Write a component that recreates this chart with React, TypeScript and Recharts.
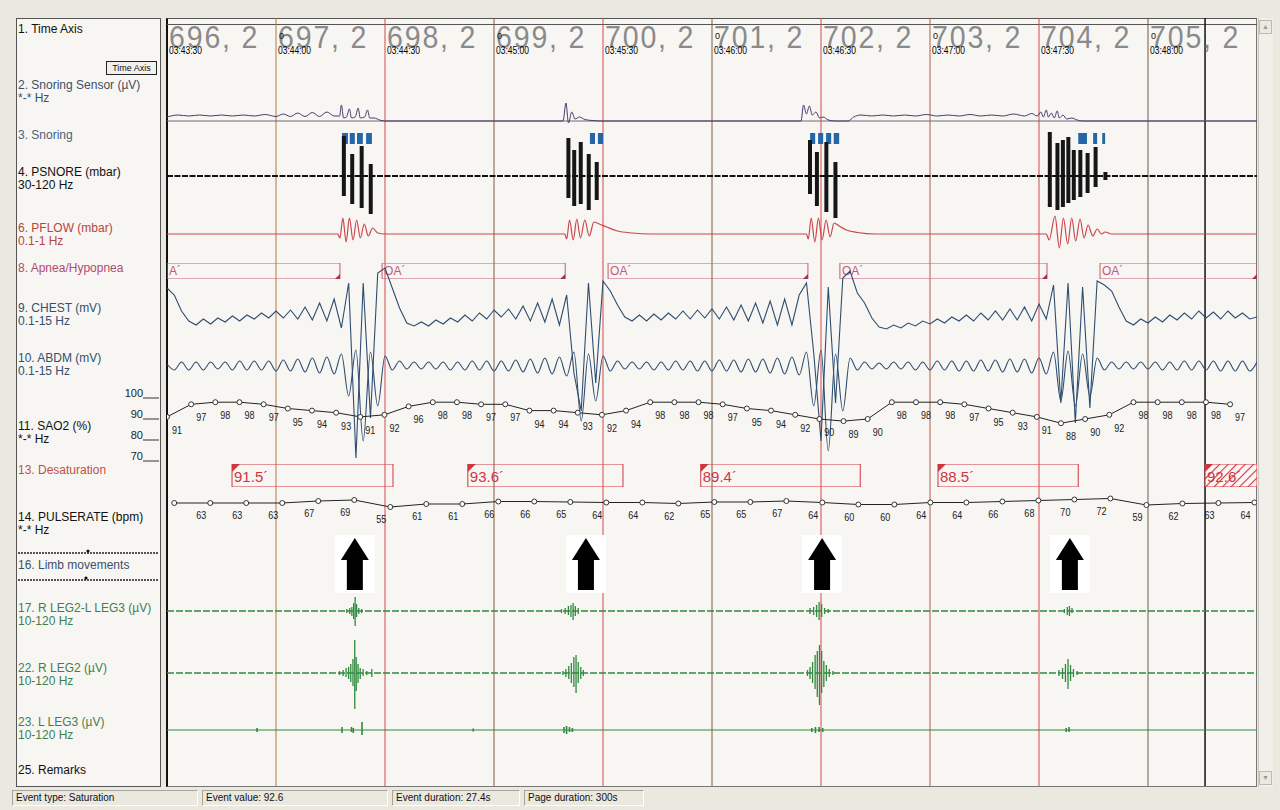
import React from 'react';
import {
  ComposedChart,
  Line,
  Bar,
  Scatter,
  XAxis,
  YAxis,
  ReferenceLine,
  ReferenceArea,
  LabelList,
} from 'recharts';

// page of 300 s, ten 30 s epochs
const epochNumbers = [696, 697, 698, 699, 700, 701, 702, 703, 704, 705];
const epochClock = ['03:43:30', '03:44:00', '03:44:30', '03:45:00', '03:45:30', '03:46:00', '03:46:30', '03:47:00', '03:47:30', '03:48:00'];
const epochZero = ['', '0', '', '0', '', '0', '', '0', '', '0'];
const epochStart = [0, 30, 60, 90, 120, 150, 180, 210, 240, 270];
const epochLineColor = ['#b07a48', '#d5474a', '#7d5d46', '#d5474a', '#7d5d46', '#d5474a', '#b55a4a', '#d5474a', '#6f5a4a'];
const cursorTime = 285.7;

// 9. CHEST, one sample every 2 s
const chestStep = 2;
const chestValues = [
  25, 18, 2, -8, -12, -6, -11, -5, -9, -3,
  -8, -2, -6, 0, -5, 2, -5, 3, -6, 6,
  -7, 10, -8, 14, -15, 30, -145, 30, -105, 40,
  45, 25, 5, -10, -13, -9, -13, -7, -11, -5,
  -9, -2, -8, 0, -6, 3, -4, 4, -6, 7,
  -8, 10, -9, 14, -12, 18, -60, -98, 30, -70,
  32, 22, 8, -4, -8, -2, -8, -1, -7, 0,
  -6, 2, -6, 3, -5, 4, -6, 6, -7, 8,
  -8, 10, -10, 12, -12, 14, -12, 18, 30, -40,
  -128, 26, -90, 35, 42, 20, 10, -5, -14, -16,
  -12, -15, -10, -13, -8, -11, -6, -10, -4, -8,
  -2, -8, 0, -7, 2, -7, 4, -7, 6, -8,
  9, -6, 28, -90, 30, -110, 26, -95, 32, 28,
  22, 6, -8, -12, -6, -10, -4, -9, -2, -7,
  0, -6, 2, -5, 1, -6, 2, -5, 0, -6,
  -4,
];

// 10. ABDM, one sample every 2 s
const abdmStep = 2;
const abdmValues = [
  2, -4, 4, -4, 4, -4, 4, -3, 4, -4,
  5, -4, 5, -4, 5, -5, 6, -5, 7, -6,
  8, -7, 9, -8, 12, -30, 16, -75, 14, -40,
  10, -4, 5, -3, 4, -3, 4, -3, 4, -4,
  4, -4, 5, -4, 5, -5, 5, -5, 6, -6,
  7, -7, 8, -8, 9, -10, 14, -55, 12, -35,
  10, -5, 5, -3, 4, -3, 4, -4, 4, -4,
  5, -4, 5, -5, 5, -5, 6, -5, 6, -6,
  7, -6, 7, -7, 8, -8, 9, -9, 14, -40,
  16, -85, 12, -45, 8, -4, 4, -3, 3, -3,
  4, -3, 4, -4, 4, -4, 5, -4, 5, -5,
  5, -5, 6, -5, 6, -6, 7, -6, 7, -7,
  8, -8, 14, -35, 15, -40, 12, -30, 8, -4,
  4, -3, 4, -3, 4, -3, 4, -4, 4, -4,
  5, -4, 5, -4, 5, -5, 5, -5, 5, -5,
  4,
];

// 2. Snoring sensor [t, value]
const sensorTrace: [number, number][] = [
  [0, 4], [3, 6], [6, 5], [9, 6], [12, 5], [15, 6], [18, 5], [21, 6], [24, 5], [27, 6.5],
  [30, 4.5], [32, 7], [34, 4.5], [36, 8], [38, 4.5], [40, 8.5], [42, 4.5], [44, 9], [46, 5], [47.5, 5],
  [48, 16], [48.6, 3], [49.4, 4], [50.2, 12], [50.8, 3], [51.8, 4], [52.6, 13], [53.2, 3], [54.4, 4], [55.2, 11],
  [55.8, 3], [57, 3], [58.5, 1], [60, 0],
  [109, 0], [109.8, 18], [110.5, -2], [111.4, 9], [112.3, 2], [113.5, 4], [115, 1.5], [117, 0.5], [120, 0],
  [174.5, 0], [175.2, 16], [176, 7], [176.8, 15], [177.6, 6], [178.6, 9], [179.6, 3], [180.6, 4], [182, 1], [184, 0],
  [187.5, 0], [189, 4], [191, 6], [194, 5], [197, 6], [200, 5], [203, 6], [206, 5], [209, 6.5], [212, 5],
  [215, 6], [218, 5], [221, 6.5], [224, 5], [227, 6], [230, 5], [233, 7], [236, 5], [238, 7.5], [239.5, 5],
  [240.5, 9], [241.2, 4], [242, 11], [242.6, 4], [243.4, 8], [244.2, 3], [245, 10], [245.6, 3], [246.6, 6], [247.6, 2],
  [249, 3], [250.5, 1], [252, 0], [300, 0],
];

// 3. Snoring events [start, end]
const snoringBlocks: [number, number][] = [
  [48.2, 49.8], [50.3, 51.7], [52.3, 53.9], [54.8, 56.4],
  [116.4, 117.8], [118.6, 120.0],
  [177.0, 178.4], [179.2, 180.6], [181.4, 182.8], [183.5, 185.0],
  [250.8, 253.2], [254.9, 256.0], [257.4, 258.2],
];

// 4. PSNORE snore spindles [t, up, down]
const psnoreSpindles: [number, number, number][] = [
  [48.6, 40, 20], [50.9, 22, 28], [53.5, 30, 32], [56.0, 12, 38],
  [110.4, 38, 22], [112.0, 26, 30], [113.8, 34, 28], [116.0, 22, 34], [118.2, 14, 24],
  [176.9, 36, 18], [178.8, 24, 30], [181.4, 34, 36], [183.9, 14, 42],
  [242.9, 44, 31], [245.0, 33, 34], [246.5, 36, 31], [248.0, 39, 27], [249.5, 26, 24],
  [251.3, 26, 21], [253.3, 23, 17], [255.5, 29, 11], [258.2, 4, 4],
];

// 6. PFLOW [t, value]
const pflowTrace: [number, number][] = [
  [0, 0], [47, 0], [47.6, -4], [48.4, 16], [49.3, -8], [50.2, 16], [51.2, -6], [52.2, 14], [53.2, -4], [54.3, 10],
  [55.4, -2], [56.6, 6], [58, 1], [60, 0],
  [109.5, 0], [110, -5], [110.8, 14], [111.8, -6], [112.8, 15], [113.8, -4], [115, 14], [116.2, -2], [117.5, 12], [119, 10],
  [121, 7], [124, 3], [128, 1], [133, 0],
  [176, 0], [176.5, -5], [177.3, 16], [178.3, -8], [179.3, 16], [180.3, -6], [181.4, 14], [182.5, -3], [183.6, 11], [185, 8],
  [187, 4], [190, 1.5], [195, 0],
  [242, 0], [242.8, -6], [244.4, 18], [245.6, -14], [246.7, 16], [247.9, -10], [249, 16], [250.1, -7], [251.3, 15], [252.4, -4],
  [253.5, 9], [254.8, -2], [256, 5], [257.2, 0], [258.2, 2], [260, 0], [300, 0],
];

// 8. Apnea/Hypopnea [start, end, label]
const apneaEvents: [number, number, string][] = [
  [0, 47.6, 'A´'],
  [59.2, 109.6, 'OA´'],
  [121.4, 176.4, 'OA´'],
  [185.2, 242.2, 'OA´'],
  [256.8, 300, 'OA´'],
];

// 13. Desaturation [start, end, value]
const desatEvents: [number, number, string][] = [
  [17.9, 62.2, '91.5´'],
  [82.8, 125.5, '93.6´'],
  [146.9, 190.8, '89.4´'],
  [212.2, 250.8, '88.5´'],
];
const desatSelected: [number, number, string] = [285.7, 300, '92.6´'];

// 11. SAO2 (%), one reading every 6.65 s
const sao2Step = 6.65;
const sao2Values = [
  91, 97, 98, 98, 97, 95, 94, 93, 91, 92,
  96, 98, 98, 97, 97, 94, 94, 93, 92, 94,
  98, 98, 98, 97, 95, 94, 92, 90, 89, 90,
  98, 98, 98, 97, 95, 93, 91, 88, 90, 92,
  98, 98, 98, 98, 97,
];
const sao2Ticks = [70, 80, 90, 100];

// 14. PULSERATE (bpm), one reading every 9.91 s
const pulseStart = 11.9;
const pulseStep = 9.91;
const pulseLead = 63;
const pulseValues = [
  63, 63, 63, 67, 69, 55, 61, 61, 66, 66,
  65, 64, 64, 62, 65, 65, 67, 64, 60, 60,
  64, 64, 66, 68, 70, 72, 59, 62, 63, 64,
];

// 16. Limb movements (arrow marks)
const limbArrows = [51.7, 115.3, 180.3, 248.5];

// EMG bursts [t, low, high]
const legDiffBursts: [number, number, number][] = [
  [49.5, -2, 2], [50.3, -3, 3], [50.9, -5, 4], [51.4, -8, 8], [51.8, -15, 14], [52.2, -6, 7], [52.8, -3, 3], [53.6, -2, 2],
  [108.6, -2, 2], [109.6, -3, 3], [110.5, -4, 5], [111.2, -6, 6], [111.8, -9, 8], [112.4, -5, 5], [113.2, -3, 3],
  [177.0, -3, 3], [178.0, -4, 4], [178.8, -6, 6], [179.5, -9, 9], [180.2, -6, 7], [181.0, -3, 3], [182.0, -2, 2],
  [247.0, -2, 2], [247.8, -4, 4], [248.4, -5, 5], [249.1, -2, 3],
];
const legRightBursts: [number, number, number][] = [
  [47.5, -2, 2], [48.5, -3, 3], [49.3, -4, 5], [50.0, -6, 6], [50.6, -9, 9], [51.2, -13, 14], [51.7, -36, 33],
  [52.1, -18, 16], [52.6, -10, 9], [53.2, -6, 5], [54.0, -3, 4], [55.0, -2, 2], [56.4, -4, 4],
  [109.0, -2, 2], [109.8, -4, 4], [110.6, -6, 7], [111.3, -10, 10], [112.0, -14, 16], [112.6, -20, 18],
  [113.2, -10, 11], [113.9, -6, 6], [114.6, -3, 3],
  [176.3, -3, 3], [177.0, -6, 6], [177.7, -10, 11], [178.4, -16, 18], [179.0, -24, 22], [179.6, -32, 28],
  [180.2, -20, 22], [180.8, -14, 12], [181.5, -8, 8], [182.3, -4, 4], [183.3, -2, 2],
  [245.5, -3, 3], [246.5, -6, 5], [247.3, -9, 9], [248.0, -16, 14], [248.7, -8, 8], [249.5, -4, 4], [250.5, -2, 2],
];
const legLeftBursts: [number, number, number][] = [
  [24.8, -2, 2], [48.2, -3, 3], [50.8, -2, 3], [51.3, -3, 2], [53.7, -5, 8], [84.3, -1.5, 1.5],
  [109.3, -3, 3], [110.0, -4, 4], [110.8, -2, 3], [111.6, -2, 2],
  [177.5, -2, 2], [178.5, -3, 3], [179.5, -2, 3], [180.5, -2, 2],
  [247.5, -2, 2], [248.3, -2, 3],
];

const X0 = 167;
const PW = 1090;
const FONT = '"Liberation Sans", Arial, sans-serif';
const SIG_BLUE = '#2e4d70';
const GREEN = '#2f8a3e';
const DESAT_RED = '#d2343f';
const APNEA_PINK = '#c4587a';

const noMargin = { top: 0, right: 0, bottom: 0, left: 0 };
const edgeRows = [{ t: 0 }, { t: 300 }];

function Strip({ top, height, domain, data, children }: any) {
  return (
    <div style={{ position: 'absolute', left: X0, top, width: PW, height }}>
      <ComposedChart width={PW} height={height} data={data || edgeRows} margin={noMargin}>
        <XAxis dataKey="t" type="number" domain={[0, 300]} allowDataOverflow hide />
        <YAxis type="number" domain={domain} allowDataOverflow hide />
        {children}
      </ComposedChart>
    </div>
  );
}

// epoch number, clock time and marker drawn at each epoch start
function EpochLabel(props: any) {
  const { cx, payload } = props;
  return (
    <g fontFamily={FONT}>
      <text transform={`translate(${cx + 2},30) scale(0.92,1)`} fontSize={31} fill="#8a8a8a" letterSpacing={2}>
        {`${payload.n}, 2`}
      </text>
      {payload.zero ? (
        <text x={cx + 3} y={21} fontSize={9} fill="#111">{payload.zero}</text>
      ) : null}
      <text transform={`translate(${cx + 2},36) scale(0.85,1)`} fontSize={10} fill="#000">{payload.clock}</text>
    </g>
  );
}

function Sao2Tick(props: any) {
  const { x, y, payload } = props;
  return (
    <g fontFamily={FONT}>
      <text x={x - 24} y={y - 1} fontSize={11} textAnchor="end" fill="#222">{payload.value}</text>
      <line x1={x - 24} x2={x - 8} y1={y} y2={y} stroke="#333" strokeWidth={1} />
    </g>
  );
}

function NarrowLabel({ x, y, value }: any) {
  if (value === null || value === undefined || value === '') return null;
  return (
    <text transform={`translate(${x},${y}) scale(0.82,1)`} fontSize={11} textAnchor="middle" fill="#222" fontFamily={FONT}>
      {value}
    </text>
  );
}

function ArrowShape(props: any) {
  const { cx, cy } = props;
  return (
    <g>
      <rect x={cx - 20} y={cy - 30} width={40} height={58} fill="#ffffff" />
      <path
        d={`M${cx} ${cy - 27} L${cx + 14} ${cy - 5} L${cx + 8} ${cy - 5} L${cx + 8} ${cy + 25} L${cx - 8} ${cy + 25} L${cx - 8} ${cy - 5} L${cx - 14} ${cy - 5} Z`}
        fill="#000"
      />
    </g>
  );
}

function apneaLabel(text: string) {
  return (props: any) => {
    const { x, y, width, height } = props.viewBox;
    return (
      <g fontFamily={FONT}>
        <text x={x + 2} y={y + 12} fontSize={12} fill={APNEA_PINK}>{text}</text>
        <path d={`M${x + width} ${y + height} L${x + width - 5} ${y + height} L${x + width} ${y + height - 5} Z`} fill="#a8304f" />
      </g>
    );
  };
}

function desatLabel(text: string) {
  return (props: any) => {
    const { x, y } = props.viewBox;
    return (
      <g fontFamily={FONT}>
        <path d={`M${x} ${y} L${x + 8} ${y} L${x} ${y + 8} Z`} fill={DESAT_RED} />
        <text x={x + 2} y={y + 18} fontSize={15} fill={DESAT_RED}>{text}</text>
      </g>
    );
  };
}

function Lbl({ y, color = '#111', children }: any) {
  return (
    <div style={{ position: 'absolute', left: 18, top: y - 6, fontSize: 12, lineHeight: '12px', color, whiteSpace: 'nowrap' }}>
      {children}
    </div>
  );
}

export default function App() {
  const chestRows = chestValues.map((v, i) => ({ t: i * chestStep, v }));
  const abdmRows = abdmValues.map((v, i) => ({ t: i * abdmStep, v }));
  const sensorRows = sensorTrace.map(([t, v]) => ({ t, v }));
  const pflowRows = pflowTrace.map(([t, v]) => ({ t, v }));
  const spindleRows = psnoreSpindles.map(([t, up, down]) => ({ t, r: [-down, up] }));
  const sao2Rows = sao2Values.map((v, i) => ({ t: i * sao2Step, v }));
  const pulseRows = [
    { t: pulseStart - pulseStep, v: pulseLead, lab: null as number | null },
    ...pulseValues.map((v, i) => ({ t: pulseStart + i * pulseStep, v, lab: v })),
  ];
  const arrowRows = limbArrows.map((t) => ({ t, y: 0.5 }));
  const burstRows = (list: [number, number, number][]) => list.map(([t, lo, hi]) => ({ t, r: [lo, hi] }));
  const epochRows = epochStart.map((t, i) => ({ t, y: 0.5, n: epochNumbers[i], clock: epochClock[i], zero: epochZero[i] }));

  return (
    <div style={{ position: 'absolute', left: 0, top: 0, width: 1280, height: 810, background: '#ebe8df', fontFamily: FONT, overflow: 'hidden' }}>
      <svg width={0} height={0} style={{ position: 'absolute' }}>
        <defs>
          <pattern id="desatHatch" width={6} height={6} patternUnits="userSpaceOnUse" patternTransform="rotate(45)">
            <rect width={6} height={6} fill="#fbf7f6" />
            <line x1={0} y1={0} x2={0} y2={6} stroke={DESAT_RED} strokeWidth={2.2} />
          </pattern>
        </defs>
      </svg>

      {/* channel label panel */}
      <div style={{ position: 'absolute', left: 16, top: 18, width: 145, height: 769, background: '#f7f6f3', border: '1px solid #555', boxSizing: 'border-box' }} />
      {/* signal panel */}
      <div style={{ position: 'absolute', left: 166, top: 18, width: 1091, height: 769, background: '#f7f6f3', borderTop: '1px solid #555', borderLeft: '2px solid #111', borderRight: '1px solid #777', borderBottom: '1px solid #777', boxSizing: 'border-box' }} />
      <div style={{ position: 'absolute', left: 167, top: 24, width: 1090, height: 1, background: '#555' }} />

      <Lbl y={29}>1. Time Axis</Lbl>
      <div style={{ position: 'absolute', left: 106, top: 61, width: 51, height: 14, border: '1px solid #222', boxSizing: 'border-box', background: '#f1f0eb', fontSize: 9, lineHeight: '12px', textAlign: 'center', color: '#111' }}>
        Time Axis
      </div>
      <Lbl y={85} color="#3d4f66">2. Snoring Sensor (µV)</Lbl>
      <Lbl y={98} color="#3d4f66">*-* Hz</Lbl>
      <Lbl y={135} color="#4a5f7a">3. Snoring</Lbl>
      <Lbl y={172}>4. PSNORE (mbar)</Lbl>
      <Lbl y={185}>30-120 Hz</Lbl>
      <Lbl y={228} color="#b6453c">6. PFLOW (mbar)</Lbl>
      <Lbl y={241} color="#b6453c">0.1-1 Hz</Lbl>
      <Lbl y={268} color="#b24a6e">8. Apnea/Hypopnea</Lbl>
      <Lbl y={308} color="#34506f">9. CHEST (mV)</Lbl>
      <Lbl y={321} color="#34506f">0.1-15 Hz</Lbl>
      <Lbl y={358} color="#34506f">10. ABDM (mV)</Lbl>
      <Lbl y={371} color="#34506f">0.1-15 Hz</Lbl>
      <Lbl y={426}>11. SAO2 (%)</Lbl>
      <Lbl y={439}>*-* Hz</Lbl>
      <Lbl y={470} color="#c0513e">13. Desaturation</Lbl>
      <Lbl y={517}>14. PULSERATE (bpm)</Lbl>
      <Lbl y={530}>*-* Hz</Lbl>
      <svg width={145} height={40} style={{ position: 'absolute', left: 16, top: 548 }}>
        <line x1={2} x2={143} y1={5} y2={5} stroke="#555" strokeWidth={2} strokeDasharray="2 1" />
        <line x1={2} x2={143} y1={32} y2={32} stroke="#555" strokeWidth={2} strokeDasharray="2 1" />
        <circle cx={72} cy={3} r={1.6} fill="#111" />
        <circle cx={70} cy={30} r={1.6} fill="#111" />
      </svg>
      <Lbl y={565} color="#3d4f66">16. Limb movements</Lbl>
      <Lbl y={608} color="#3f7f4f">17. R LEG2-L LEG3 (µV)</Lbl>
      <Lbl y={621} color="#3f7f4f">10-120 Hz</Lbl>
      <Lbl y={668} color="#3f7f4f">22. R LEG2 (µV)</Lbl>
      <Lbl y={681} color="#3f7f4f">10-120 Hz</Lbl>
      <Lbl y={722} color="#3f7f4f">23. L LEG3 (µV)</Lbl>
      <Lbl y={735} color="#3f7f4f">10-120 Hz</Lbl>
      <Lbl y={770}>25. Remarks</Lbl>

      {/* epoch grid */}
      <Strip top={18} height={768} domain={[0, 1]}>
        {epochStart.slice(1).map((t, i) => (
          <ReferenceLine key={t} x={t} stroke={epochLineColor[i]} strokeWidth={1} />
        ))}
        <ReferenceLine x={cursorTime} stroke="#111" strokeWidth={1.5} />
      </Strip>

      {/* 1. time axis labels */}
      <Strip top={18} height={40} domain={[0, 1]} data={epochRows}>
        <Scatter dataKey="y" shape={EpochLabel} isAnimationActive={false} />
      </Strip>

      {/* 8. apnea boxes */}
      <Strip top={263} height={16} domain={[0, 1]}>
        {apneaEvents.map(([a, b, txt]) => (
          <ReferenceArea key={a} x1={a} x2={b} y1={0} y2={1} fill="none" stroke={APNEA_PINK} strokeWidth={1} label={apneaLabel(txt)} />
        ))}
      </Strip>

      {/* 13. desaturation boxes */}
      <Strip top={464} height={23} domain={[0, 1]}>
        {desatEvents.map(([a, b, txt]) => (
          <ReferenceArea key={a} x1={a} x2={b} y1={0} y2={1} fill="none" stroke={DESAT_RED} strokeWidth={1} label={desatLabel(txt)} />
        ))}
        <ReferenceArea x1={desatSelected[0]} x2={desatSelected[1]} y1={0} y2={1} fill="url(#desatHatch)" fillOpacity={1} stroke={DESAT_RED} strokeWidth={1} label={desatLabel(desatSelected[2])} />
      </Strip>

      {/* 3. snoring events */}
      <Strip top={133} height={11} domain={[0, 1]}>
        {snoringBlocks.map(([a, b]) => (
          <ReferenceArea key={a} x1={a} x2={b} y1={0} y2={1} fill="#2466a8" fillOpacity={1} stroke="none" />
        ))}
      </Strip>

      {/* 2. snoring sensor */}
      <Strip top={90} height={45} domain={[-14, 31]} data={sensorRows}>
        <ReferenceLine y={0} stroke="#6a6a72" strokeWidth={1} />
        <Line dataKey="v" type="monotone" stroke="#4e3770" strokeWidth={1} dot={false} isAnimationActive={false} />
      </Strip>

      {/* 4. PSNORE */}
      <Strip top={120} height={120} domain={[-64, 56]} data={spindleRows}>
        <ReferenceLine y={0} stroke="#111" strokeWidth={1.8} strokeDasharray="6 1.5" />
        <Bar dataKey="r" fill="#161616" barSize={4} isAnimationActive={false} />
      </Strip>

      {/* 6. PFLOW */}
      <Strip top={200} height={80} domain={[-46, 34]} data={pflowRows}>
        <Line dataKey="v" type="monotone" stroke="#c9474b" strokeWidth={1.2} dot={false} isAnimationActive={false} />
      </Strip>

      {/* 9. CHEST */}
      <Strip top={250} height={230} domain={[-167, 63]} data={chestRows}>
        <Line dataKey="v" type="linear" stroke={SIG_BLUE} strokeWidth={1.1} dot={false} isAnimationActive={false} />
      </Strip>

      {/* 10. ABDM */}
      <Strip top={300} height={180} domain={[-114, 66]} data={abdmRows}>
        <Line dataKey="v" type="monotone" stroke={SIG_BLUE} strokeWidth={1.1} dot={false} isAnimationActive={false} />
      </Strip>

      {/* 11. SAO2 */}
      <div style={{ position: 'absolute', left: X0 - 50, top: 377 }}>
        <ComposedChart width={PW + 50} height={105} data={sao2Rows} margin={noMargin}>
          <XAxis dataKey="t" type="number" domain={[0, 300]} allowDataOverflow hide />
          <YAxis
            type="number"
            domain={[60, 110]}
            allowDataOverflow
            width={50}
            ticks={sao2Ticks}
            interval={0}
            tick={Sao2Tick}
            tickSize={0}
            tickMargin={0}
            axisLine={false}
            tickLine={false}
          />
          <Line dataKey="v" type="linear" stroke="#222" strokeWidth={1} dot={{ r: 2.5, fill: '#fff', stroke: '#333', strokeWidth: 1 }} isAnimationActive={false}>
            <LabelList dataKey="v" content={(p: any) => <NarrowLabel x={p.x + 10} y={p.y + 17} value={p.value} />} />
          </Line>
        </ComposedChart>
      </div>

      {/* 14. PULSERATE */}
      <Strip top={480} height={45} domain={[19, 109]} data={pulseRows}>
        <Line dataKey="v" type="linear" stroke="#222" strokeWidth={1} dot={{ r: 2.5, fill: '#fff', stroke: '#333', strokeWidth: 1 }} isAnimationActive={false}>
          <LabelList dataKey="lab" content={(p: any) => <NarrowLabel x={p.x - 9} y={p.y + 16} value={p.value} />} />
        </Line>
      </Strip>

      {/* 16. limb movement marks */}
      <Strip top={530} height={70} domain={[0, 1]} data={arrowRows}>
        <Scatter dataKey="y" shape={ArrowShape} isAnimationActive={false} />
      </Strip>

      {/* 17. R LEG2-L LEG3 */}
      <Strip top={580} height={60} domain={[-29, 31]} data={burstRows(legDiffBursts)}>
        <ReferenceLine y={0} stroke={GREEN} strokeWidth={1.4} strokeDasharray="7 2" />
        <Bar dataKey="r" fill={GREEN} barSize={1.6} isAnimationActive={false} />
      </Strip>

      {/* 22. R LEG2 */}
      <Strip top={630} height={90} domain={[-47, 43]} data={burstRows(legRightBursts)}>
        <ReferenceLine y={0} stroke={GREEN} strokeWidth={1.4} strokeDasharray="7 2" />
        <Bar dataKey="r" fill={GREEN} barSize={1.6} isAnimationActive={false} />
      </Strip>

      {/* 23. L LEG3 */}
      <Strip top={700} height={60} domain={[-30, 30]} data={burstRows(legLeftBursts)}>
        <ReferenceLine y={0} stroke={GREEN} strokeWidth={1.2} />
        <Bar dataKey="r" fill={GREEN} barSize={1.6} isAnimationActive={false} />
      </Strip>

      {/* scrollbar */}
      <div style={{ position: 'absolute', left: 1258, top: 18, width: 15, height: 769, background: '#f1efe9', borderLeft: '1px solid #c9c6bd', boxSizing: 'border-box' }} />
      <div style={{ position: 'absolute', left: 1259, top: 20, width: 13, height: 14, background: '#ece9e1', border: '1px solid #bdbab1', boxSizing: 'border-box', fontSize: 7, lineHeight: '12px', textAlign: 'center', color: '#999' }}>▲</div>
      <div style={{ position: 'absolute', left: 1259, top: 771, width: 13, height: 14, background: '#ece9e1', border: '1px solid #bdbab1', boxSizing: 'border-box', fontSize: 7, lineHeight: '12px', textAlign: 'center', color: '#999' }}>▼</div>

      {/* status bar */}
      {[
        [12, 186, 'Event type: Saturation'],
        [202, 186, 'Event value: 92.6'],
        [392, 128, 'Event duration: 27.4s'],
        [524, 120, 'Page duration: 300s'],
      ].map(([x, w, txt]) => (
        <div key={String(txt)} style={{ position: 'absolute', left: x as number, top: 790, width: w as number, height: 16, borderTop: '1px solid #a8a59c', borderLeft: '1px solid #a8a59c', borderBottom: '1px solid #fff', borderRight: '1px solid #fff', boxSizing: 'border-box', fontSize: 10, lineHeight: '14px', paddingLeft: 3, color: '#111', whiteSpace: 'nowrap' }}>
          {txt}
        </div>
      ))}
    </div>
  );
}
